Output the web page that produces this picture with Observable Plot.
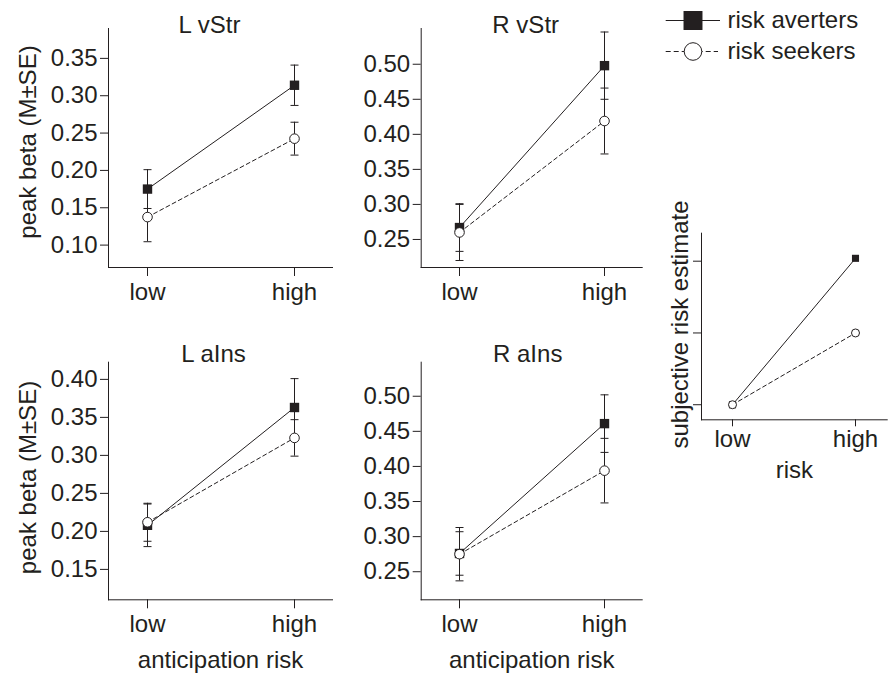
<!DOCTYPE html>
<html><head><meta charset="utf-8">
<script src="https://cdn.jsdelivr.net/npm/d3@7"></script>
<script src="https://cdn.jsdelivr.net/npm/@observablehq/plot@0.6"></script>
<style>
html,body{margin:0;padding:0;background:#fff;}
#chart{position:relative;width:893px;height:675px;overflow:hidden;background:#fff;}
#chart svg{position:absolute;overflow:visible;}
</style></head><body><div id="chart"></div>
<script>
// ---------- data ----------
const riskLevels = ["low", "high"];
const regionTitles = ["L vStr", "R vStr", "L aIns", "R aIns"];
const avertersMean = [[0.175, 0.314], [0.267, 0.498], [0.208, 0.363], [0.276, 0.461]];
const avertersSE   = [[0.026, 0.027], [0.034, 0.048], [0.028, 0.038], [0.031, 0.041]];
const seekersMean  = [[0.1375, 0.2425], [0.260, 0.419], [0.212, 0.323], [0.275, 0.394]];
const seekersSE    = [[0.033, 0.022], [0.040, 0.047], [0.025, 0.024], [0.038, 0.046]];
const yTickValues = [
  [0.10, 0.15, 0.20, 0.25, 0.30, 0.35],
  [0.25, 0.30, 0.35, 0.40, 0.45, 0.50],
  [0.15, 0.20, 0.25, 0.30, 0.35, 0.40],
  [0.25, 0.30, 0.35, 0.40, 0.45, 0.50]
];
const yDomains = [[0.07, 0.39], [0.21, 0.551], [0.11, 0.4226], [0.21, 0.5485]];
const subjectiveAverters = [1.0, 3.04];
const subjectiveSeekers  = [1.0, 2.0];
const subjectiveTicks = [1, 2, 3];
const groupLabels = ["risk averters", "risk seekers"];
const yAxisLabel = "peak beta (M\u00b1SE)";
const xAxisLabel = "anticipation risk";

// ---------- layout / style ----------
const INK = "#231f20";
const FONT = "'Liberation Sans', Arial, Helvetica, sans-serif";
const FS = 24;
const layout = [
  {frame: {x0: 108, x1: 332, y0: 28, y1: 267}, box: {x: 0, y: 0, w: 350, h: 320}, titleDx: -11, titleDy: 4, ylab: true, xlab: false},
  {frame: {x0: 420.7, x1: 641.7, y0: 28, y1: 267}, box: {x: 312, y: 0, w: 340, h: 320}, titleDx: -6, titleDy: 4, ylab: false, xlab: false},
  {frame: {x0: 108, x1: 332, y0: 361.7, y1: 599.3}, box: {x: 0, y: 320, w: 350, h: 355}, titleDx: -7, titleDy: 0, ylab: true, xlab: true},
  {frame: {x0: 420.7, x1: 641.7, y0: 361.7, y1: 599.3}, box: {x: 312, y: 320, w: 340, h: 355}, titleDx: -4, titleDy: 0, ylab: false, xlab: true}
];
const baseStyle = {fontFamily: FONT, fontSize: FS + "px", color: INK, background: "transparent", overflow: "visible"};

const capSymbol = {
  draw(ctx, size) {
    const r = Math.sqrt(size / Math.PI);
    ctx.moveTo(-r, 0);
    ctx.lineTo(r, 0);
  }
};

function rows(meanRow, seRow, group) {
  return riskLevels.map((risk, j) => ({group, risk, mean: meanRow[j], se: seRow[j] || 0}));
}

function margins(fr, bx) {
  return {
    width: bx.w, height: bx.h,
    marginLeft: fr.x0 - bx.x, marginRight: bx.x + bx.w - fr.x1,
    marginTop: fr.y0 - bx.y, marginBottom: bx.y + bx.h - fr.y1
  };
}

function place(svg, bx) {
  svg.style.left = bx.x + "px";
  svg.style.top = bx.y + "px";
  document.getElementById("chart").appendChild(svg);
}

function regionPanel(i) {
  const L = layout[i];
  const av = rows(avertersMean[i], avertersSE[i], "averters");
  const sk = rows(seekersMean[i], seekersSE[i], "seekers");
  const all = av.concat(sk);
  const marks = [
    Plot.frame({anchor: "left", stroke: INK, strokeWidth: 1}),
    Plot.frame({anchor: "bottom", stroke: INK, strokeWidth: 1}),
    Plot.axisY(yTickValues[i], {tickSize: 8, tickPadding: 3, tickFormat: d3.format(".2f"), label: null, stroke: INK, fill: INK, fontSize: FS}),
    Plot.axisX(riskLevels, {tickSize: 9, tickPadding: 6, label: null, stroke: INK, fill: INK, fontSize: FS}),
    Plot.line(av, {x: "risk", y: "mean", stroke: INK, strokeWidth: 1}),
    Plot.line(sk, {x: "risk", y: "mean", stroke: INK, strokeWidth: 1, strokeDasharray: "4,3"}),
    Plot.ruleX(all, {x: "risk", y1: d => d.mean - d.se, y2: d => d.mean + d.se, stroke: INK, strokeWidth: 1}),
    Plot.dot(all, {x: "risk", y: d => d.mean - d.se, symbol: capSymbol, r: 4, stroke: INK, fill: "none", strokeWidth: 1}),
    Plot.dot(all, {x: "risk", y: d => d.mean + d.se, symbol: capSymbol, r: 4, stroke: INK, fill: "none", strokeWidth: 1}),
    Plot.dot(av, {x: "risk", y: "mean", symbol: "square", r: 5.3, fill: INK, stroke: "none"}),
    Plot.dot(sk, {x: "risk", y: "mean", symbol: "circle", r: 4.8, fill: "white", stroke: INK, strokeWidth: 1}),
    Plot.text([regionTitles[i]], {frameAnchor: "top", textAnchor: "middle", lineAnchor: "bottom", dx: L.titleDx, dy: L.titleDy, fill: INK, fontSize: FS})
  ];
  if (L.ylab) marks.push(Plot.text([yAxisLabel], {frameAnchor: "left", textAnchor: "middle", lineAnchor: "middle", rotate: -90, dx: 28 - L.frame.x0, dy: i === 0 ? -6 : -3.5, fill: INK, fontSize: FS}));
  if (L.xlab) marks.push(Plot.text([xAxisLabel], {frameAnchor: "bottom", textAnchor: "middle", lineAnchor: "middle", dy: 61, fill: INK, fontSize: FS}));
  const svg = Plot.plot({
    ...margins(L.frame, L.box),
    x: {type: "point", domain: riskLevels, padding: 0.257},
    y: {domain: yDomains[i]},
    style: baseStyle,
    marks
  });
  place(svg, L.box);
}

function subjectivePanel() {
  const frame = {x0: 701, x1: 886.7, y0: 232.7, y1: 419.3};
  const box = {x: 650, y: 200, w: 243, h: 300};
  const av = rows(subjectiveAverters, [], "averters");
  const sk = rows(subjectiveSeekers, [], "seekers");
  const svg = Plot.plot({
    ...margins(frame, box),
    x: {type: "point", domain: riskLevels, padding: 0.25},
    y: {domain: [0.79, 3.39]},
    style: baseStyle,
    marks: [
      Plot.frame({anchor: "left", stroke: INK, strokeWidth: 1}),
      Plot.frame({anchor: "bottom", stroke: INK, strokeWidth: 1}),
      Plot.axisY(subjectiveTicks, {tickSize: 8, tickFormat: () => "", label: null, stroke: INK}),
      Plot.axisX(riskLevels, {tickSize: 7, tickPadding: 3, label: null, stroke: INK, fill: INK, fontSize: FS}),
      Plot.line(av, {x: "risk", y: "mean", stroke: INK, strokeWidth: 1}),
      Plot.line(sk, {x: "risk", y: "mean", stroke: INK, strokeWidth: 1, strokeDasharray: "4,3"}),
      Plot.dot(av, {x: "risk", y: "mean", symbol: "square", r: 4, fill: INK, stroke: "none"}),
      Plot.dot(sk, {x: "risk", y: "mean", symbol: "circle", r: 4, fill: "white", stroke: INK, strokeWidth: 1}),
      Plot.text(["subjective risk estimate"], {frameAnchor: "left", textAnchor: "middle", lineAnchor: "middle", rotate: -90, dx: -21, dy: -2, fill: INK, fontSize: FS}),
      Plot.text(["risk"], {frameAnchor: "bottom", textAnchor: "middle", lineAnchor: "middle", dy: 51, fill: INK, fontSize: FS})
    ]
  });
  place(svg, box);
}

function legendPanel() {
  const box = {x: 640, y: 0, w: 253, h: 80};
  const svg = Plot.plot({
    width: box.w, height: box.h, margin: 0,
    x: {domain: [0, box.w], range: [0, box.w], axis: null},
    y: {type: "point", domain: groupLabels, range: [19.5, 51], padding: 0, axis: null},
    style: baseStyle,
    marks: [
      Plot.ruleY([groupLabels[0]], {y: d => d, x1: 25.7, x2: 80, stroke: INK, strokeWidth: 1}),
      Plot.ruleY([groupLabels[1]], {y: d => d, x1: 25.7, x2: 78, stroke: INK, strokeWidth: 1, strokeDasharray: "5,3"}),
      Plot.dot([groupLabels[0]], {x: 52.5, y: d => d, symbol: "square", r: 10.7, fill: INK, stroke: "none"}),
      Plot.dot([groupLabels[1]], {x: 52.5, y: d => d, symbol: "circle", r: 8.8, fill: "white", stroke: INK, strokeWidth: 1}),
      Plot.text(groupLabels, {x: 87, y: d => d, textAnchor: "start", lineAnchor: "middle", fill: INK, fontSize: FS})
    ]
  });
  place(svg, box);
}

for (let i = 0; i < 4; i++) regionPanel(i);
subjectivePanel();
legendPanel();
</script>
</body></html>
